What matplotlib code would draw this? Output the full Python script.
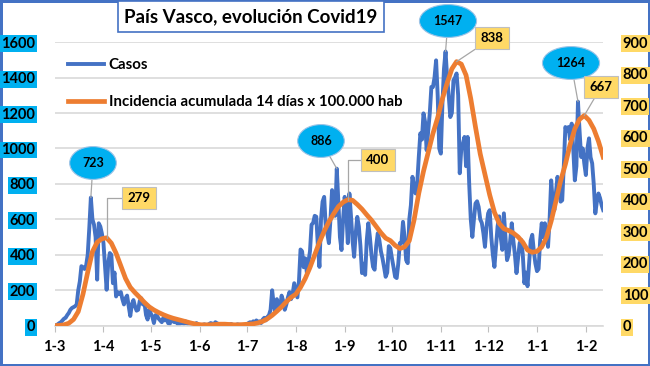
import matplotlib
matplotlib.use("Agg")
import matplotlib.pyplot as plt
import pandas as pd

plt.rcParams['font.family'] = ['Lato', 'DejaVu Sans']

# casos diarios desde el 1 de marzo de 2020
casos = [
    0, 3, 8, 15, 20, 30, 40,
    45, 60, 72, 90, 100, 105, 110,
    120, 200, 250, 336, 330, 320, 340,
    400, 550, 723, 600, 570, 500, 260,
    578, 560, 520, 466, 335, 203, 350,
    410, 400, 240, 300, 165, 190, 180,
    190, 150, 120, 155, 170, 110, 55,
    120, 145, 110, 85, 90, 140, 155,
    120, 130, 60, 35, 90, 70, 50,
    15, 60, 55, 40, 30, 20, 45,
    30, 50, 15, 10, 35, 25, 20,
    30, 10, 5, 15, 20, 10, 25,
    15, 5, 8, 12, 10, 5, 15,
    8, 3, 2, 5, 8, 4, 2,
    10, 15, 12, 8, 20, 14, 10,
    5, 6, 10, 8, 5, 3, 6,
    10, 4, 2, 3, 8, 6, 5,
    4, 2, 5, 8, 15, 20, 12,
    25, 18, 30, 20, 25, 15, 35,
    45, 30, 50, 60, 90, 200, 120,
    80, 150, 110, 100, 170, 140, 90,
    120, 160, 190, 150, 180, 240, 200,
    160, 250, 430, 420, 330, 380, 300,
    360, 420, 570, 580, 620, 615, 450,
    332, 600, 700, 727, 560, 520, 466,
    600, 765, 700, 620, 886, 700, 500,
    427, 600, 727, 650, 466, 746, 620,
    480, 389, 520, 614, 560, 450, 297,
    350, 287, 480, 578, 500, 400, 332,
    316, 450, 522, 483, 420, 380, 330,
    276, 300, 449, 437, 380, 330, 276,
    269, 350, 466, 466, 586, 500, 370,
    353, 600, 680, 840, 790, 746, 800,
    950, 1085, 1050, 1198, 1150, 990, 1100,
    1200, 1347, 1347, 1400, 1497, 1300, 1000,
    971, 1250, 1450, 1547, 1400, 1300, 1177,
    1200, 1384, 1400, 1423, 1300, 860, 1000,
    1028, 1065, 900, 1065, 800, 600, 501,
    600, 690, 702, 670, 600, 580, 522,
    445, 560, 634, 652, 500, 400, 332,
    450, 560, 617, 500, 428, 634, 500,
    370, 400, 480, 578, 480, 400, 297,
    380, 466, 484, 400, 240, 300, 223,
    350, 480, 513, 420, 350, 308, 320,
    480, 578, 500, 578, 520, 445, 600,
    820, 700, 652, 750, 840, 780, 700,
    708, 900, 1121, 1100, 1121, 1050, 1140,
    1000, 820, 900, 1264, 1100, 952, 1000,
    916, 850, 1000, 1057, 950, 916, 800,
    634, 700, 746, 720, 680, 652,
]

# incidencia acumulada 14 dias, leida cada 3 dias
incidencia = [
    0, 1, 3, 8, 20, 45, 100, 170, 235, 265,
    276, 279, 262, 230, 190, 150, 122, 105, 90, 74,
    60, 50, 42, 35, 29, 24, 20, 16, 12, 8,
    5, 3, 3, 3, 4, 5, 5, 4, 3, 3,
    4, 5, 6, 9, 14, 22, 33, 46, 60, 76,
    90, 100, 122, 150, 185, 225, 265, 300, 330, 355,
    378, 392, 400, 398, 385, 370, 352, 335, 315, 295,
    278, 270, 255, 245, 250, 270, 335, 420, 490, 550,
    610, 660, 720, 770, 815, 838, 830, 795, 720, 630,
    545, 480, 415, 360, 325, 308, 302, 294, 282, 265,
    240, 233, 236, 250, 280, 332, 395, 460, 512, 575,
    625, 655, 667, 652, 625, 585, 535,
]

picos_casos = [723, 886, 1547, 1264]
picos_inc = [279, 400, 838, 667]
mes_labels = ['1-3', '1-4', '1-5', '1-6', '1-7', '1-8', '1-9', '1-10',
              '1-11', '1-12', '1-1', '1-2']

fechas = pd.date_range('2020-03-01', periods=len(casos), freq='D')
fechas_inc = fechas[::3]
meses = pd.date_range('2020-03-01', periods=len(mes_labels), freq='MS')

BLUE = '#4472C4'
ORANGE = '#ED7D31'
CYAN = '#00B0F0'
YELLOW = '#FFD966'

fig = plt.figure(figsize=(6.5, 3.66), dpi=100)
fig.patch.set_edgecolor(BLUE)
fig.patch.set_linewidth(2.5)
ax = fig.add_axes([0.084, 0.110, 0.844, 0.775])
ax2 = ax.twinx()

l1, = ax.plot(fechas, casos, color=BLUE, lw=2.8, solid_joinstyle='round')
l2, = ax2.plot(fechas_inc, incidencia, color=ORANGE, lw=3.4, solid_joinstyle='round')

ax.set_xlim(fechas[0], fechas[-1])
ax.set_ylim(0, 1600)
ax2.set_ylim(0, 900)
ax.set_yticks(range(0, 1601, 200))
ax2.set_yticks(range(0, 901, 100))
ax.set_xticks(meses)
ax.set_xticklabels(mes_labels)

ax.grid(axis='y', color='#D9D9D9', lw=1.2)
ax.set_axisbelow(True)
for a in (ax, ax2):
    for s in a.spines.values():
        s.set_visible(False)
ax.spines['bottom'].set_visible(True)
ax.spines['bottom'].set_color('#D9D9D9')
ax.spines['bottom'].set_linewidth(1.2)

ax.tick_params(axis='x', length=4, color='#BFBFBF', pad=6, labelsize=10.5)
ax.tick_params(axis='y', length=0, pad=14, labelsize=10.5)
ax2.tick_params(axis='y', length=0, pad=14, labelsize=10.5)
for lbl in ax.get_xticklabels():
    lbl.set_fontweight('bold')
for lbl in ax.get_yticklabels():
    lbl.set_fontweight('bold')
    lbl.set_bbox(dict(facecolor=CYAN, edgecolor='none', pad=1.0))
for lbl in ax2.get_yticklabels():
    lbl.set_fontweight('bold')
    lbl.set_bbox(dict(facecolor=YELLOW, edgecolor='none', pad=1.0))

leg = ax.legend([l1, l2], ['Casos', 'Incidencia acumulada 14 días x 100.000 hab'],
                loc='upper left', bbox_to_anchor=(0.0, 0.99), frameon=False,
                handlelength=2.4, handletextpad=0.3, labelspacing=1.5,
                prop={'weight': 'bold', 'size': 10.8})

# etiquetas de picos
casos_pos = [(93, 203), (321, 225), (448, 345), (571, 303)]
for v, pos in zip(picos_casos, casos_pos):
    i = casos.index(v)
    ax.annotate(str(v), xy=(fechas[i], v), xytext=pos, textcoords='figure pixels',
                ha='center', va='center', fontsize=9, fontweight='bold',
                bbox=dict(boxstyle='ellipse,pad=0.45', facecolor=CYAN, edgecolor='#9DC3E6', lw=0.8),
                arrowprops=dict(arrowstyle='-', color='#A6A6A6', lw=0.9, shrinkA=0, shrinkB=0))

inc_pos = [(139, 168), (378, 206), (492, 328), (601, 279)]
inc_conn = ['angle,angleA=0,angleB=90,rad=0', 'angle,angleA=0,angleB=90,rad=0',
            'arc3,rad=0', 'arc3,rad=0']
for v, pos, cs in zip(picos_inc, inc_pos, inc_conn):
    i = incidencia.index(v)
    ax2.annotate(str(v), xy=(fechas_inc[i], v), xytext=pos, textcoords='figure pixels',
                 ha='center', va='center', fontsize=9.5, fontweight='bold',
                 bbox=dict(boxstyle='square,pad=0.4', facecolor=YELLOW, edgecolor='#BFBFBF', lw=0.8),
                 arrowprops=dict(arrowstyle='-', color='#A6A6A6', lw=0.9, shrinkA=0, shrinkB=0,
                                 connectionstyle=cs))

fig.text(0.386, 0.955, 'País Vasco, evolución Covid19', ha='center', va='center',
         fontsize=13.5, fontweight='bold',
         bbox=dict(boxstyle='square,pad=0.35', facecolor='white', edgecolor=BLUE, lw=1.2))

fig.savefig('out.png', dpi=100)
